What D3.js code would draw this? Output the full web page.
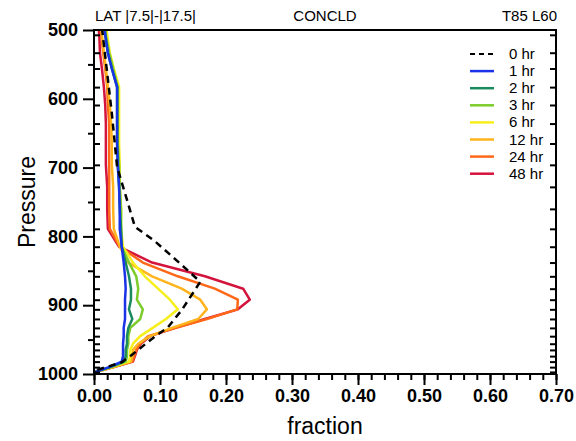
<!DOCTYPE html>
<html>
<head>
<meta charset="utf-8">
<script src="https://cdn.jsdelivr.net/npm/d3@7"></script>
<style>
  body { margin: 0; background: #fff; }
  svg { font-family: "Liberation Sans", Arial, sans-serif; }
</style>
</head>
<body>
<div id="chart"></div>
<script>
// model levels (hPa) the forecast profiles are given on
var levels = [480,507,533,556,583,609,636,665,696,728,760,789,815,838,858,876,892,906,920,933,945,956,965,974,982,990,997];

var hr1  = [0.014,0.017,0.021,0.027,0.035,0.035,0.035,0.035,0.036,0.038,0.039,0.039,0.042,0.045,0.047,0.048,0.047,0.047,0.047,0.045,0.045,0.044,0.044,0.044,0.042,0.023,0.002];
var hr2  = [0.014,0.017,0.021,0.027,0.035,0.035,0.035,0.035,0.036,0.038,0.039,0.041,0.042,0.048,0.053,0.056,0.056,0.053,0.058,0.052,0.050,0.050,0.048,0.048,0.045,0.024,0.002];
var hr3  = [0.015,0.018,0.023,0.029,0.036,0.036,0.036,0.036,0.038,0.039,0.041,0.041,0.042,0.053,0.064,0.067,0.065,0.074,0.070,0.055,0.052,0.052,0.050,0.050,0.048,0.026,0.002];
var hr6  = [0.017,0.020,0.024,0.030,0.038,0.038,0.038,0.038,0.039,0.039,0.041,0.041,0.044,0.059,0.077,0.097,0.115,0.127,0.109,0.089,0.070,0.059,0.055,0.055,0.053,0.027,0.002];
var hr12 = [0.009,0.012,0.015,0.018,0.021,0.024,0.026,0.027,0.027,0.029,0.029,0.030,0.039,0.052,0.088,0.133,0.161,0.171,0.158,0.118,0.085,0.067,0.059,0.058,0.056,0.029,0.002];
var hr24 = [0.008,0.011,0.014,0.017,0.020,0.021,0.023,0.023,0.023,0.023,0.023,0.024,0.039,0.074,0.127,0.183,0.218,0.217,0.171,0.124,0.082,0.070,0.064,0.061,0.058,0.030,0.002];
var hr48 = [0.005,0.008,0.009,0.012,0.015,0.017,0.018,0.018,0.018,0.020,0.020,0.021,0.038,0.088,0.168,0.226,0.236,0.218,0.168,0.123,0.085,0.071,0.065,0.062,0.059,0.030,0.002];

// initial state (0 hr) on its own levels
var levels0 = [480,621,699,747,786,806,839,866,907,932,948,971,983,994,1000];
var hr0     = [0.010,0.027,0.035,0.050,0.062,0.091,0.130,0.161,0.133,0.112,0.089,0.059,0.042,0.005,0.000];

var labels = ["0 hr","1 hr","2 hr","3 hr","6 hr","12 hr","24 hr","48 hr"];
var colors = ["#000000","#1b33e6","#1b8a5e","#7ccc2c","#f7ef1c","#ffb41e","#ff6818","#d3143c"];

var xTicks = [0,0.1,0.2,0.3,0.4,0.5,0.6,0.7];
var yTicks = [500,600,700,800,900,1000];

var width = 576, height = 441;
var margin = {left: 94, right: 20, top: 30, bottom: 67};

var svg = d3.select("#chart").append("svg")
    .attr("width", width)
    .attr("height", height);

var x = d3.scaleLinear().domain([0, 0.7]).range([margin.left, width - margin.right]);
var y = d3.scaleLinear().domain([500, 1000]).range([margin.top, height - margin.bottom]);

svg.append("clipPath").attr("id", "clip")
  .append("rect")
    .attr("x", x(0)).attr("y", y(500))
    .attr("width", x(0.7) - x(0)).attr("height", y(1000) - y(500));

// series, drawn 48 hr first so 1 hr and the dashed 0 hr end on top
var series = [
  {vals: hr0, lev: levels0},
  {vals: hr1, lev: levels},
  {vals: hr2, lev: levels},
  {vals: hr3, lev: levels},
  {vals: hr6, lev: levels},
  {vals: hr12, lev: levels},
  {vals: hr24, lev: levels},
  {vals: hr48, lev: levels}
];

var line = d3.line()
    .x(function(d) { return x(d[0]); })
    .y(function(d) { return y(d[1]); });

var g = svg.append("g").attr("clip-path", "url(#clip)");
for (var i = series.length - 1; i >= 1; i--) {
  var s = series[i];
  g.append("path")
    .datum(s.vals.map(function(v, j) { return [v, s.lev[j]]; }))
    .attr("d", line)
    .attr("fill", "none")
    .attr("stroke", colors[i])
    .attr("stroke-width", 2.5)
    .attr("stroke-linejoin", "round");
}
g.append("path")
  .datum(hr0.map(function(v, j) { return [v, levels0[j]]; }))
  .attr("d", line)
  .attr("fill", "none")
  .attr("stroke", "#000")
  .attr("stroke-width", 2.5)
  .attr("stroke-dasharray", "7,5");

// axes
var xAxis = svg.append("g")
    .attr("transform", "translate(0," + y(1000) + ")")
    .call(d3.axisBottom(x).tickValues(xTicks).tickSize(11).tickPadding(4).tickFormat(d3.format(".2f")));
var xMinor = svg.append("g")
    .attr("transform", "translate(0," + y(1000) + ")")
    .call(d3.axisBottom(x).tickValues(d3.range(0, 0.701, 0.02)).tickSize(6).tickFormat(""));

var yAxis = svg.append("g")
    .attr("transform", "translate(" + x(0) + ",0)")
    .call(d3.axisLeft(y).tickValues(yTicks).tickSize(11).tickPadding(5).tickFormat(d3.format("d")));
var yMinor = svg.append("g")
    .attr("transform", "translate(" + x(0) + ",0)")
    .call(d3.axisLeft(y).tickValues([550,650,750,850,950]).tickSize(6).tickFormat(""));

// model level ticks, inward on both sides
var levTicks = levels.filter(function(p) { return p >= 500 && p <= 1000; });
svg.append("g")
    .attr("transform", "translate(" + x(0) + ",0)")
    .call(d3.axisLeft(y).tickValues(levTicks).tickSize(-6).tickFormat(""));
svg.append("g")
    .attr("transform", "translate(" + x(0.7) + ",0)")
    .call(d3.axisRight(y).tickValues(levTicks).tickSize(-6).tickFormat(""));

svg.selectAll(".domain").remove();
svg.selectAll(".tick line").attr("stroke", "#000").attr("stroke-width", 2);
svg.selectAll(".tick text")
    .attr("fill", "#000")
    .style("font-size", "18px")
    .style("font-weight", "bold")
    .style("font-family", "Liberation Sans, Arial, sans-serif");

// frame
svg.append("rect")
    .attr("x", x(0)).attr("y", y(500))
    .attr("width", x(0.7) - x(0)).attr("height", y(1000) - y(500))
    .attr("fill", "none")
    .attr("stroke", "#000")
    .attr("stroke-width", 2);

// titles
svg.append("text").attr("x", x(0) + 1).attr("y", 21)
    .style("font-size", "15px").text("LAT |7.5|-|17.5|");
svg.append("text").attr("x", (x(0) + x(0.7)) / 2).attr("y", 21)
    .attr("text-anchor", "middle").style("font-size", "15px").text("CONCLD");
svg.append("text").attr("x", x(0.7) + 1).attr("y", 21)
    .attr("text-anchor", "end").style("font-size", "15px").text("T85 L60");

svg.append("text")
    .attr("x", (x(0) + x(0.7)) / 2).attr("y", 434)
    .attr("text-anchor", "middle")
    .style("font-size", "23px")
    .text("fraction");
svg.append("text")
    .attr("transform", "translate(35," + ((y(500) + y(1000)) / 2) + ") rotate(-90)")
    .attr("text-anchor", "middle")
    .style("font-size", "23px")
    .text("Pressure");

// legend
var legend = svg.append("g");
labels.forEach(function(lab, i) {
  var ly = 54 + i * 17.1;
  var ln = legend.append("line")
      .attr("x1", 470).attr("x2", 494)
      .attr("y1", ly).attr("y2", ly)
      .attr("stroke", colors[i])
      .attr("stroke-width", 2.5);
  if (i == 0) ln.attr("stroke-dasharray", "5,4").attr("stroke-width", 2);
  legend.append("text")
      .attr("x", 509).attr("y", ly + 5)
      .style("font-size", "15px")
      .text(lab);
});
</script>
</body>
</html>
